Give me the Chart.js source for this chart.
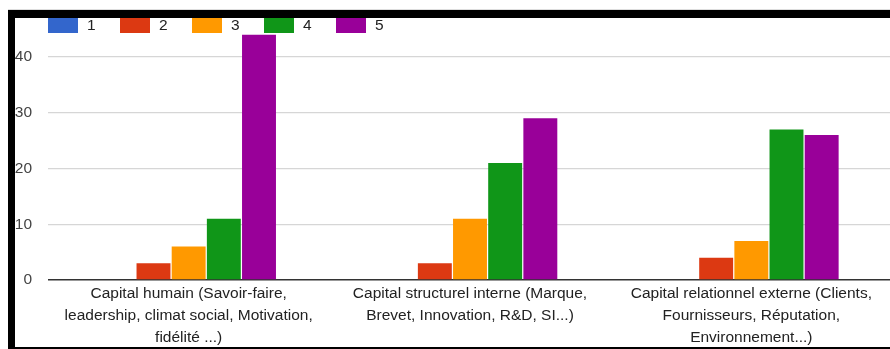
<!DOCTYPE html>
<html>
<head>
<meta charset="utf-8">
<script src="https://cdn.jsdelivr.net/npm/chart.js@4/dist/chart.umd.min.js"></script>
<style>
    html, body { margin: 0; padding: 0; background: #fff; overflow: hidden; width: 890px; height: 349px; }
    #wrap { position: relative; width: 890px; height: 349px; overflow: hidden; }
    #chart { position: absolute; left: 0; top: 0; }
    .bar { position: absolute; background: #000; }
</style>
</head>
<body>
<div id="wrap">
    <canvas id="chart" width="892" height="349"></canvas>
    <div class="bar" style="left:8px;top:9px;width:882px;height:1px;background:#ddd"></div>
    <div class="bar" style="left:8px;top:10px;width:882px;height:8px"></div>
    <div class="bar" style="left:8px;top:10px;width:7px;height:339px"></div>
    <div class="bar" style="left:8px;top:347px;width:882px;height:2px"></div>
</div>
<script>
// catégories (libellés sur plusieurs lignes)
const categories = [
    ['Capital humain (Savoir-faire,', 'leadership, climat social, Motivation,', 'fidélité ...)'],
    ['Capital structurel interne (Marque,', 'Brevet, Innovation, R&D, SI...)'],
    ['Capital relationnel externe (Clients,', 'Fournisseurs, Réputation,', 'Environnement...)']
];

// séries : note 1 à 5
const seriesNames = ['1', '2', '3', '4', '5'];
const note1 = [0, 0, 0];
const note2 = [3, 3, 4];
const note3 = [6, 11, 7];
const note4 = [11, 21, 27];
const note5 = [44, 29, 26];

const yTicks = [0, 10, 20, 30, 40];
const yMax = 47;

const colors = ['#3366cc', '#dc3912', '#ff9900', '#109618', '#990099'];
const FONT = 'Arial, "Liberation Sans", sans-serif';

// légende dessinée à la main, style Google Charts
const legendPlugin = {
    id: 'gLegend',
    afterDraw(chart) {
        const ctx = chart.ctx;
        const left = chart.chartArea.left;
        ctx.save();
        ctx.font = '15.5px ' + FONT;
        ctx.textBaseline = 'middle';
        chart.data.datasets.forEach((ds, i) => {
            const x = left + i * 72;
            ctx.fillStyle = ds.backgroundColor;
            ctx.fillRect(x, 18, 30, 15);
            ctx.fillStyle = '#222';
            ctx.fillText(ds.label, x + 39, 26);
        });
        ctx.restore();
    }
};

const allSeries = [note1, note2, note3, note4, note5];

new Chart(document.getElementById('chart').getContext('2d'), {
    type: 'bar',
    data: {
        labels: categories,
        datasets: seriesNames.map((name, i) => ({
            label: name,
            data: allSeries[i],
            backgroundColor: colors[i],
            borderWidth: 0,
            barPercentage: 0.965,
            categoryPercentage: 0.625
        }))
    },
    options: {
        responsive: false,
        animation: false,
        layout: { padding: { top: 18, left: 0, right: 0, bottom: 0 } },
        plugins: {
            legend: { display: false },
            tooltip: { enabled: false }
        },
        scales: {
            x: {
                grid: { display: false, drawTicks: false },
                border: { display: false },
                ticks: {
                    color: '#222',
                    padding: 3,
                    maxRotation: 0,
                    autoSkip: false,
                    font: { family: FONT, size: 15.5, lineHeight: 1.42 }
                },
                afterFit(scale) {
                    scale.height = 69;
                    scale.paddingLeft = 0;
                    scale.paddingRight = 0;
                }
            },
            y: {
                min: 0,
                max: yMax,
                grid: {
                    drawTicks: false,
                    color: (c) => (c.tick && c.tick.value === 0) ? '#333' : '#d6d6d6',
                    lineWidth: (c) => (c.tick && c.tick.value === 0) ? 1.5 : 1.3
                },
                border: { display: false },
                ticks: {
                    color: '#444',
                    padding: 16,
                    font: { family: FONT, size: 15.5 }
                },
                afterBuildTicks(scale) {
                    scale.ticks = yTicks.map(v => ({ value: v }));
                },
                afterFit(scale) {
                    scale.width = 48;
                    scale.paddingTop = 0;
                    scale.paddingBottom = 0;
                }
            }
        }
    },
    plugins: [legendPlugin]
});
</script>
</body>
</html>
